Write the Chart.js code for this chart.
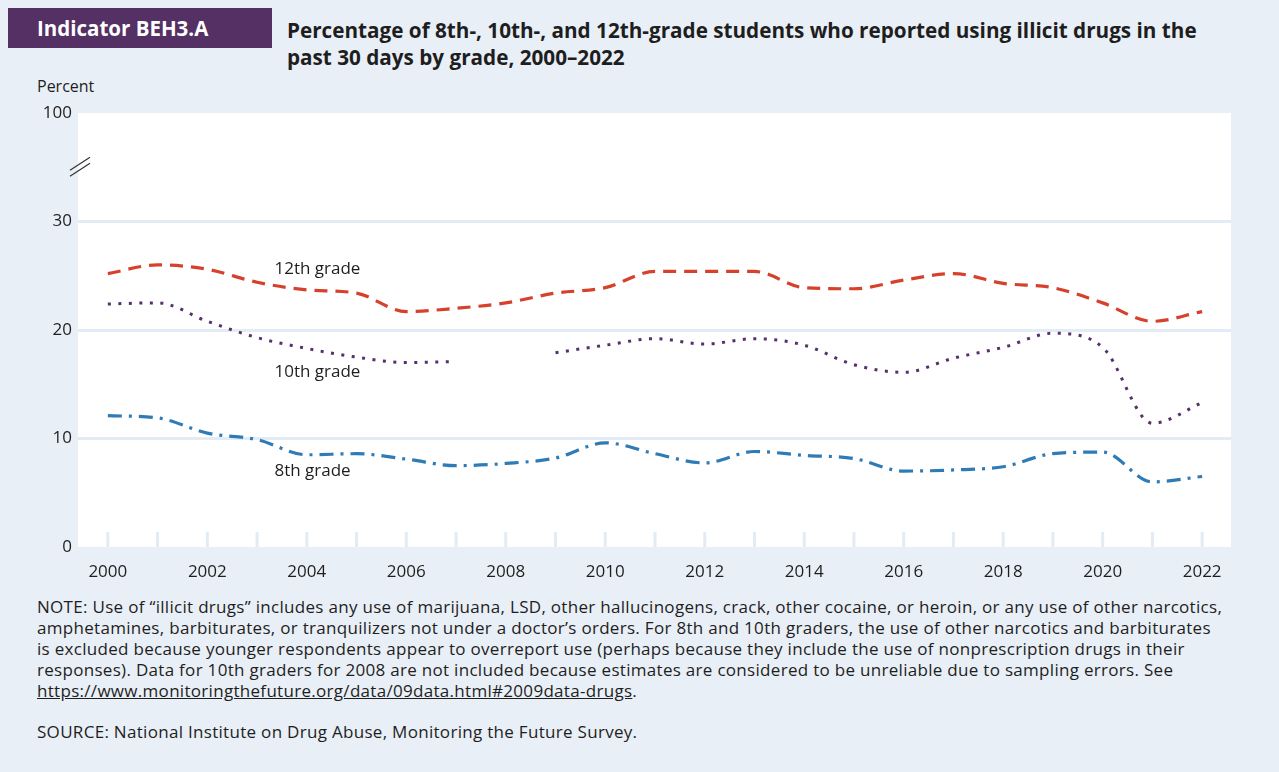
<!DOCTYPE html>
<html>
<head>
<meta charset="utf-8">
<script src="https://cdn.jsdelivr.net/npm/chart.js@4.4.1/dist/chart.umd.min.js"></script>
<style>
  html, body { margin: 0; padding: 0; }
  body { width: 1279px; height: 772px; background: #e9eff6; position: relative; overflow: hidden; font-family: "Open Sans", Lato, sans-serif; color: #1e1e1e; }
  .badge { position: absolute; left: 8px; top: 8px; width: 264px; height: 40px; background: #553064; color: #fff; font-weight: bold; font-size: 20.5px; line-height: 40px; box-sizing: border-box; padding-left: 29px; white-space: nowrap; }
  .title { position: absolute; left: 287px; top: 17px; font-weight: bold; font-size: 20.7px; line-height: 27px; white-space: nowrap; }
  .ylab { position: absolute; left: 37px; top: 75px; font-size: 16px; }
  #wrap { position: absolute; left: 0; top: 95px; width: 1279px; height: 485px; }
  .note { position: absolute; left: 37px; top: 596px; font-size: 17px; letter-spacing: 0.3px; line-height: 21px; white-space: nowrap; }
  .note a { color: inherit; }
  .source { position: absolute; left: 37px; top: 720px; font-size: 17px; letter-spacing: 0.3px; white-space: nowrap; }
</style>
</head>
<body>
<div class="badge">Indicator BEH3.A</div>
<div class="title">Percentage of 8th-, 10th-, and 12th-grade students who reported using illicit drugs in the<br>past 30 days by grade, 2000–2022</div>
<div class="ylab">Percent</div>
<div id="wrap"><canvas id="chart"></canvas></div>
<div class="note">NOTE: Use of “illicit drugs” includes any use of marijuana, LSD, other hallucinogens, crack, other cocaine, or heroin, or any use of other narcotics,<br>amphetamines, barbiturates, or tranquilizers not under a doctor’s orders. For 8th and 10th graders, the use of other narcotics and barbiturates<br>is excluded because younger respondents appear to overreport use (perhaps because they include the use of nonprescription drugs in their<br>responses). Data for 10th graders for 2008 are not included because estimates are considered to be unreliable due to sampling errors. See<br><a href="#">https://www.monitoringthefuture.org/data/09data.html#2009data-drugs</a>.</div>
<div class="source">SOURCE: National Institute on Drug Abuse, Monitoring the Future Survey.</div>
<script>
const years = [2000, 2001, 2002, 2003, 2004, 2005, 2006, 2007, 2008, 2009, 2010, 2011,
  2012, 2013, 2014, 2015, 2016, 2017, 2018, 2019, 2020, 2021, 2022];
const grade12 = [25.2, 26.0, 25.6, 24.4, 23.7, 23.4, 21.7, 22.0, 22.5, 23.4, 23.9, 25.4,
  25.4, 25.4, 23.9, 23.8, 24.6, 25.2, 24.3, 23.9, 22.5, 20.8, 21.7];
const grade10 = [22.4, 22.5, 20.8, 19.3, 18.3, 17.5, 17.0, 17.1, null, 17.9, 18.6, 19.2,
  18.7, 19.2, 18.6, 16.8, 16.1, 17.4, 18.4, 19.7, 18.4, 11.4, 13.3];
const grade8 = [12.1, 11.9, 10.5, 9.9, 8.5, 8.6, 8.1, 7.5, 7.7, 8.2, 9.6, 8.6,
  7.75, 8.8, 8.45, 8.15, 7.0, 7.1, 7.4, 8.6, 8.75, 6.0, 6.5];
const yTicks = [0, 10, 20, 30, 40];
const yTickLabels = ["0", "10", "20", "30", "100"];
const seriesLabels = ["12th grade", "10th grade", "8th grade"];
// where the in-chart labels sit (year, value)
const labelSpots = [[2003.35, 25.6], [2003.35, 16.1], [2003.35, 7.0]];

const pts = (arr) => years.map((y, i) => ({ x: y, y: arr[i] }));
const FONT = "'Open Sans', Lato, sans-serif";

const decor = {
  id: "decor",
  beforeDraw(chart) {
    const { ctx, chartArea: a } = chart;
    ctx.save();
    ctx.fillStyle = "#ffffff";
    ctx.fillRect(a.left, a.top, a.right - a.left, a.bottom - a.top);
    ctx.restore();
  },
  beforeDatasetsDraw(chart) {
    const { ctx, chartArea: a, scales } = chart;
    ctx.save();
    ctx.strokeStyle = "#e3ebf4";
    ctx.lineWidth = 3;
    years.forEach((yr) => {
      const x = scales.x.getPixelForValue(yr);
      ctx.beginPath();
      ctx.moveTo(x, a.bottom - 15);
      ctx.lineTo(x, a.bottom);
      ctx.stroke();
    });
    ctx.restore();
  },
  afterDatasetsDraw(chart) {
    const { ctx, chartArea: a, scales } = chart;
    ctx.save();
    ctx.fillStyle = "#1e1e1e";
    ctx.font = "17px " + FONT;
    ctx.textBaseline = "middle";
    ctx.textAlign = "left";
    labelSpots.forEach(([yr, v], i) => {
      ctx.fillText(seriesLabels[i], scales.x.getPixelForValue(yr), scales.y.getPixelForValue(v));
    });
    // axis break mark
    const yb = scales.y.getPixelForValue(35);
    ctx.strokeStyle = "#333";
    ctx.lineWidth = 1.2;
    [-3, 3].forEach((d) => {
      ctx.beginPath();
      ctx.moveTo(a.left - 8, yb + 6 + d);
      ctx.lineTo(a.left + 12, yb - 7 + d);
      ctx.stroke();
    });
    ctx.restore();
  }
};

new Chart(document.getElementById("chart"), {
  type: "line",
  data: {
    datasets: [
      {
        label: seriesLabels[0], data: pts(grade12),
        borderColor: "#d6412c", borderWidth: 3.2, borderDash: [13, 8],
        pointRadius: 0, cubicInterpolationMode: "monotone"
      },
      {
        label: seriesLabels[1], data: pts(grade10),
        borderColor: "#55306a", borderWidth: 3, borderDash: [3, 7.5],
        pointRadius: 0, cubicInterpolationMode: "monotone", spanGaps: false
      },
      {
        label: seriesLabels[2], data: pts(grade8),
        borderColor: "#2f7bb5", borderWidth: 3.2, borderDash: [14, 7, 3, 7],
        pointRadius: 0, cubicInterpolationMode: "monotone"
      }
    ]
  },
  options: {
    responsive: true,
    maintainAspectRatio: false,
    animation: false,
    layout: { padding: { top: 18, right: 48, bottom: 0, left: 0 } },
    plugins: { legend: { display: false }, tooltip: { enabled: false } },
    scales: {
      x: {
        type: "linear",
        min: 1999.4,
        max: 2022.58,
        afterFit: (s) => { s.height = 33; },
        afterBuildTicks: (s) => { s.ticks = years.filter((y) => y % 2 === 0).map((v) => ({ value: v })); },
        grid: { display: false },
        border: { display: false },
        ticks: {
          autoSkip: false, maxRotation: 0, padding: 7,
          color: "#1e1e1e", font: { size: 17, family: FONT },
          callback: (v) => String(v)
        }
      },
      y: {
        min: 0,
        max: 40,
        afterFit: (s) => { s.width = 78; },
        afterBuildTicks: (s) => { s.ticks = yTicks.map((v) => ({ value: v })); },
        grid: {
          drawTicks: false,
          lineWidth: 3,
          color: (c) => (c.tick && [10, 20, 30].includes(c.tick.value) ? "#e3ebf4" : "rgba(0,0,0,0)")
        },
        border: { display: false },
        ticks: {
          padding: 6,
          color: "#1e1e1e", font: { size: 17, family: FONT },
          callback: (v) => yTickLabels[yTicks.indexOf(v)]
        }
      }
    }
  },
  plugins: [decor]
});
</script>
</body>
</html>
